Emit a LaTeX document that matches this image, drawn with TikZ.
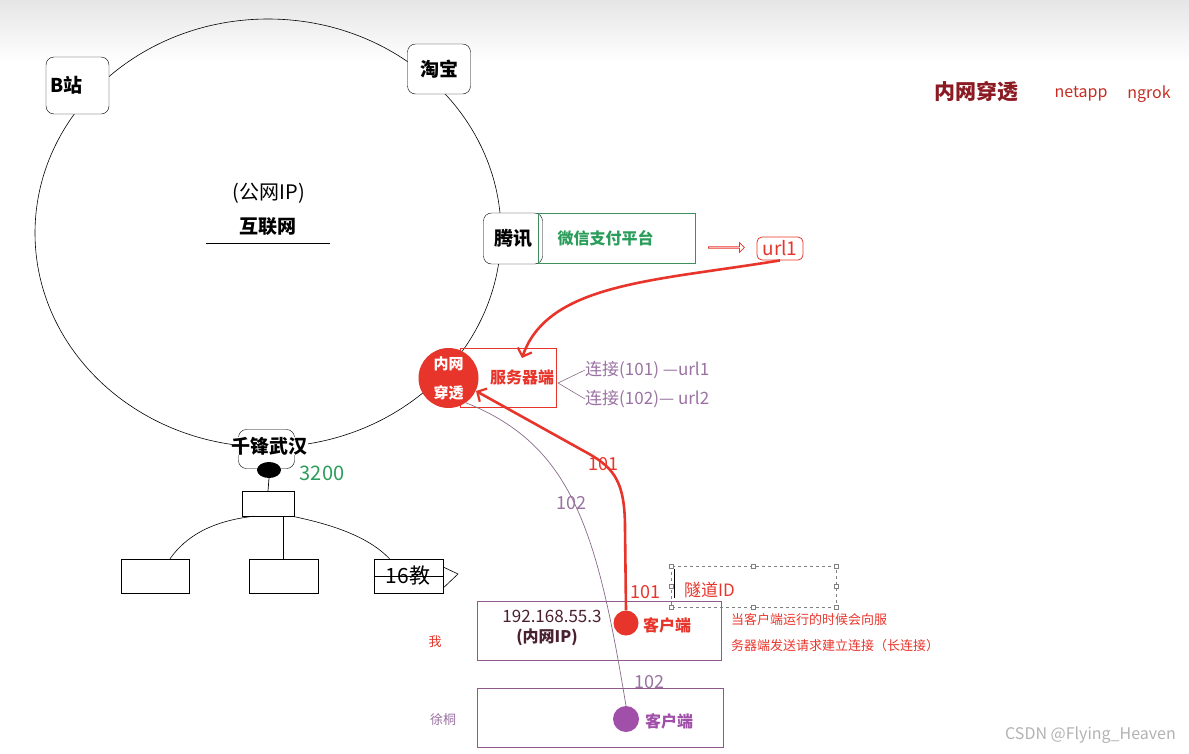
\documentclass[tikz,border=0pt]{standalone}
\usepackage{fontspec}
\setmainfont{Noto Sans CJK SC}
\usetikzlibrary{arrows.meta,calc,shapes.arrows,shapes.geometric}
\definecolor{cred}{HTML}{E8352B}
\definecolor{cgreen}{HTML}{2A9D5A}
\definecolor{cgreenbox}{HTML}{3E8E5E}
\definecolor{cpurple}{HTML}{8E5A8E}
\definecolor{cptext}{HTML}{9A72A2}
\definecolor{cpdot}{HTML}{A050A8}
\definecolor{cmaroon}{HTML}{8B1A22}
\definecolor{cdark}{HTML}{4A2030}
\definecolor{cline}{HTML}{8A6A8A}
\newcommand{\fs}[1]{\fontsize{#1}{#1}\selectfont}
\begin{document}
\begin{tikzpicture}[x=1pt,y=-1pt,
  site/.style={draw, rounded corners=8pt, fill=white, inner sep=0pt, font=\bfseries\fs{19}},
  plainbox/.style={draw, inner sep=0pt},
  lbl/.style={inner sep=0pt},
  thickred/.style={draw=cred, line width=2.6pt, -{Straight Barb[length=7pt,width=15pt,line width=2.2pt]}},
  handle/.style={draw=gray, fill=white, minimum size=4pt, inner sep=0pt}
]
\useasboundingbox (0,0) rectangle (1189,753);
\shade[top color=black!10, bottom color=white] (0,0) rectangle (1189,62);

% title
\node[lbl, font=\bfseries\fs{21}, text=cmaroon] (title) at (976,92) {内网穿透};
\node[lbl, font=\fs{16}, text=cred!85!black] (netapp) at (1081,94) {netapp};
\node[lbl, font=\fs{16}, text=cred!85!black] (ngrok) at (1149,94) {ngrok};

% internet circle
\draw[line width=0.6pt] (268,233) ellipse [x radius=233, y radius=214];
\node[lbl, font=\fs{20}] (pubip) at (269,193) {(公网IP)};
\node[lbl, font=\bfseries\fs{19}] (inet) at (268,227) {互联网};
\draw[line width=0.7pt] (206,243) -- (330,243);

% sites
\node[site, minimum width=63pt, minimum height=57pt, text width=55pt, align=left] (bz) at (77.5,85.5) {B站};
\node[site, minimum width=63pt, minimum height=50pt] (tb) at (439,69) {淘宝};
\node[site, minimum width=59pt, minimum height=51pt] (tx) at (513,238.5) {腾讯};
\node[draw=cgreenbox, minimum width=157pt, minimum height=50pt, inner sep=0pt, font=\bfseries\fs{16}, text=cgreen, text width=140pt, align=left] (wx) at (616.5,238) {\hspace*{11pt}微信支付平台};

% hollow arrow and url1
\node[single arrow, draw=cred, fill=white, minimum height=36pt, minimum width=10pt, single arrow head extend=2pt, inner sep=0pt, line width=0.8pt] (harrow) at (726,247.5) {};
\node[draw=cred, rounded corners=5pt, minimum width=46pt, minimum height=23pt, inner sep=0pt, line width=0.8pt, text=cred, font=\fs{19}] (url1) at (780,248.5) {url1};

% server box and tunnel circle
\node[draw=cred, minimum width=96pt, minimum height=59pt, inner sep=0pt, text=cred, font=\bfseries\fs{16}, text width=92pt, align=right] (srv) at (508,377.5) {服务器端};
\node[circle, fill=cred, minimum size=60pt, inner sep=0pt, text=white, font=\bfseries\fs{15}, align=center] (nw) at (448.5,378) {内网\\[14pt]穿透};

% red curve url1 -> server
\coordinate (srvin) at (522,358);
\path[thickred] (url1.south) .. controls (655,281) and (548,283) .. (srvin);

% connection labels
\coordinate (fork) at (558,383);
\node[lbl, anchor=west, font=\fs{17}, text=cptext] (c1) at (585,370) {连接(101) —url1};
\node[lbl, anchor=west, font=\fs{17}, text=cptext] (c2) at (585,399) {连接(102)— url2};
\draw[cline, line width=0.6pt] (c1.west) -- (fork) -- (c2.west);

% 千锋武汉
\node[site, minimum width=56pt, minimum height=39pt] (qfbox) at (266.5,449) {};
\node[lbl, fill=white, font=\bfseries\fs{19}] (qf) at (269.5,446) {千锋武汉};
\node[ellipse, fill=black, minimum width=24pt, minimum height=16pt, inner sep=0pt] (port) at (269,470) {};
\node[lbl, font=\fs{20}, text=cgreen] (p3200) at (322,473) {3200};
\node[plainbox, minimum width=52pt, minimum height=25pt] (sw) at (268,503.5) {};
\draw[line width=0.7pt] (port.south) -- (sw.north);
\node[plainbox, minimum width=68pt, minimum height=34pt] (pc1) at (155,576) {};
\node[plainbox, minimum width=69pt, minimum height=34pt] (pc2) at (283.5,576) {};
\node[plainbox, minimum width=69pt, minimum height=34pt] (pc3) at (408.5,576) {};
\draw[line width=0.6pt] ($(sw.south)+(-14,0)$) .. controls (212,521) and (186,536) .. ($(pc1.north)+(15,0)$);
\draw[line width=0.7pt] ($(sw.south)+(4,0)$) -- (sw.south -| pc2.north) -- (pc2.north);
\draw[line width=0.6pt] ($(sw.south)+(24,0)$) .. controls (330,524) and (368,536) .. ($(pc3.north)+(-19,0)$);
\node[lbl, font=\fs{21}] (t16) at (408,576) {16教};
\draw[line width=0.7pt] (pc3.west) -- (pc3.east);
\draw[line width=0.6pt] (pc3.north east |- 0,567) -- (458,574) -- (pc3.north east |- 0,588);

% client "me"
\node[draw=cpurple, minimum width=244pt, minimum height=59pt, inner sep=0pt] (me) at (599.5,630.5) {};
\node[lbl, font=\fs{17}, text=cdark] (ip) at (552,616) {192.168.55.3};
\node[lbl, font=\bfseries\fs{16}, text=cdark] (lip) at (547,637) {(内网IP)};
\node[circle, fill=cred, minimum size=25pt, inner sep=0pt] (dot1) at (626,623) {};
\node[lbl, font=\bfseries\fs{16}, text=cred, anchor=west] (cl1) at (643,625) {客户端};
\node[lbl, font=\fs{13}, text=cred] (wo) at (435,642) {我};
\node[lbl, font=\fs{18}, text=cred] (n101b) at (645,592) {101};

% client "xutong"
\node[draw=cpurple, minimum width=246pt, minimum height=59pt, inner sep=0pt] (xt) at (600,717.5) {};
\node[circle, fill=cpdot, minimum size=26pt, inner sep=0pt] (dot2) at (626,719) {};
\node[lbl, font=\bfseries\fs{16}, text=cpdot, anchor=west] (cl2) at (645,721) {客户端};
\node[lbl, font=\fs{13}, text=cptext] (xtn) at (443,720) {徐桐};
\node[lbl, font=\fs{18}, text=cptext] (n102b) at (649,682) {102};

% 101 red connection
\coordinate (nwin) at (476,391);
\path[thickred] (dot1.north) -- (625,528) .. controls (625,478) and (612,466) .. (582,450) -- (nwin);
\node[lbl, font=\fs{18}, text=cred] (n101) at (603,464) {101};

% 102 purple connection
\draw[cline, line width=0.7pt] (nw.-55) .. controls (572,445) and (597,530) .. (dot2.north);
\node[lbl, font=\fs{18}, text=cptext] (n102) at (571,503) {102};

% tunnel ID dashed box
\draw[gray, dashed, line width=0.6pt] (671,566) rectangle (836,607);
\foreach \hx/\hy in {671/566, 753.5/566, 836/566, 671/586.5, 836/586.5, 671/607, 753.5/607, 836/607}
  \node[handle] at (\hx,\hy) {};
\draw[black, line width=0.8pt] (674,569) -- (674,598);
\node[lbl, font=\fs{17}, text=cred, anchor=west] (tid) at (684,590) {隧道ID};
\node[lbl, font=\fs{13}, text=cred, anchor=west] (ex1) at (731,620) {当客户端运行的时候会向服};
\node[lbl, font=\fs{13}, text=cred, anchor=west] (ex2) at (731,646) {务器端发送请求建立连接（长连接）};

% watermark
\node[lbl, font=\fs{16}, text=black!30, anchor=east] (wm) at (1176,735) {CSDN @Flying\_Heaven};
\end{tikzpicture}
\end{document}
